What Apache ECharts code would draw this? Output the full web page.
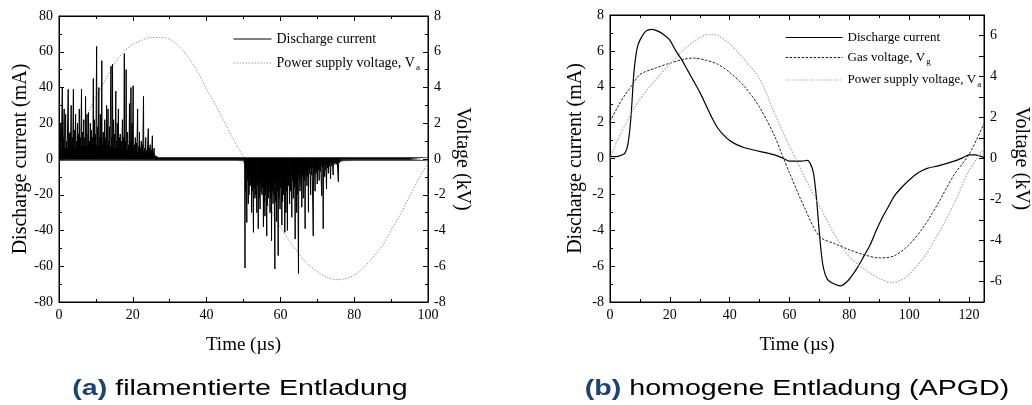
<!DOCTYPE html>
<html><head><meta charset="utf-8">
<script src="https://cdn.jsdelivr.net/npm/echarts@6/dist/echarts.min.js"></script>
<style>html,body{margin:0;background:#fff}#c{width:1032px;height:405px}</style>
</head><body><div id="c"></div>
<script>
// ---------- (a) filamentary discharge ----------
const posSpikeT = [0.5,0.9,1.4,1.8,2.5,3.0,3.3,3.9,4.5,5.0,5.5,6.1,6.7,7.2,7.6,8.0,8.5,9.3,9.6,10.2,10.5,10.8,11.2,11.6,12.0,12.4,12.9,13.3,13.7,14.1,14.5,14.8,15.4,15.8,16.1,16.6,17.2,17.7,18.2,18.6,19.1,19.5,19.8,20.1,20.7,21.3,21.8,22.3,22.9,23.5,24.2,24.7,25.3,25.8,
  0.2,1.1,2.1,2.8,3.6,4.2,4.8,5.3,5.8,6.4,7.0,7.9,8.3,8.8,9.1,9.9,11.0,11.4,12.2,12.7,13.5,14.3,15.1,15.6,16.4,16.9,17.5,18.0,18.9,19.3,20.4,21.0,21.6,22.0,22.6,23.2,23.8,24.5,25.0];
const posSpikeV = [20,40,28,25,39,15,30,39,25,20,28,39,22,35,25,26,20,45,22,63,18,40,25,55,15,22,30,28,18,52,53,22,38,20,28,14,22,59,50,15,31,40,20,41,12,28,15,10,35,12,17,8,13,6,
  8,12,10,14,12,16,10,14,12,15,12,14,10,16,12,14,12,10,14,12,10,12,14,10,12,10,12,10,8,10,8,9,7,6,8,6,5,6,5];
const negSpikeT = [50.4,50.9,51.3,51.8,52.2,52.7,53.1,53.6,54.0,54.5,55.0,55.4,55.8,56.3,56.7,57.2,57.6,58.0,58.5,59.0,59.4,59.9,60.4,60.8,61.2,61.5,61.9,62.5,63.1,63.5,64.0,64.4,64.9,65.3,65.8,66.2,66.7,67.2,67.6,68.2,68.9,69.4,70.0,70.5,71.2,71.6,72.0,72.5,73.0,73.6,74.3,75.7,
  50.6,51.1,51.5,52.0,52.4,52.9,53.3,53.8,54.2,54.8,55.2,55.6,56.0,56.5,56.9,57.4,57.8,58.2,58.7,59.2,59.6,60.1,60.6,61.0,61.7,62.2,62.8,63.3,63.8,64.2,64.6,65.1,65.6,66.0,66.5,66.9,67.4,67.9,68.5,69.1,69.7,70.3,70.8,71.4,72.2,72.8,73.3,74.0,74.8,75.3,76.0];
const negSpikeV = [-61,-35.5,-25,-15,-30,-41,-22,-30,-39,-28,-20,-38,-32,-43,-22,-30,-45.7,-25,-61.5,-35,-54,-28,-37,-20,-41,-30,-40,-25,-32.6,-22,-44.8,-30,-64,-18,-27,-22,-39,-15,-29.8,-20,-43,-18,-14,-12,-20.5,-39,-10,-16.8,-8,-11,-9,-12.7,
  -18,-12,-20,-14,-18,-16,-20,-15,-22,-18,-16,-24,-20,-26,-18,-22,-18,-20,-24,-18,-22,-16,-24,-14,-18,-15,-18,-12,-16,-14,-20,-12,-15,-10,-12,-9,-10,-8,-9,-7,-8,-6,-7,-5,-6,-5,-4,-4,-3,-3,-2];
// dense noise band (envelope)
const bandT  = [0,1,2,3,4,5,6,7,8,9,10,11,12,13,14,15,16,17,18,19,20,21,22,23,24,25,26,27,30,35,40,45,48,50,51,52,53,54,55,56,57,58,59,60,61,62,63,64,65,66,67,68,69,70,71,72,73,74,75,76,77,80,85,90,95,100];
const bandHi = [4,6,6,7,6,7,7,8,7,8,8,7,7,8,7,6,6,6,6,5,5,4,4,4,3,3,2,0.8,0.8,0.8,0.8,0.8,0.8,0.8,0.8,0.8,0.8,0.8,0.8,0.8,0.8,0.8,0.8,0.8,0.8,0.8,0.8,0.8,0.8,0.8,0.8,0.8,0.8,0.8,0.8,0.8,0.8,0.8,0.8,0.8,0.8,0.8,0.8,0.8,0.8,0.8];
const bandLo = [-0.8,-0.8,-0.8,-0.8,-0.8,-0.8,-0.8,-0.8,-0.8,-0.8,-0.8,-0.8,-0.8,-0.8,-0.8,-0.8,-0.8,-0.8,-0.8,-0.8,-0.8,-0.8,-0.8,-0.8,-0.8,-0.8,-0.8,-0.8,-0.8,-0.8,-0.8,-0.8,-0.8,-1,-8,-10,-12,-13,-14,-14,-14,-13,-13,-12,-11,-10,-9,-9,-8,-7,-6,-5,-5,-4,-4,-3,-3,-2,-2,-1.5,-1,-0.8,-0.8,-0.8,-0.8,-0.8];
// power supply voltage (kV)
const vaT_a = [0,2.5,5,7.5,10,12.5,15,17.5,20,22.5,25,27.5,30,32.5,35,37.5,40,42.5,45,47.5,50,52.5,55,57.5,60,62.5,65,67.5,70,72.5,75,77.5,80,82.5,85,87.5,90,92.5,95,97.5,100];
const vaV_a = [-0.2,0.5,1.3,2.4,3.5,4.4,5.3,6.0,6.4,6.65,6.8,6.8,6.7,6.3,5.7,4.9,3.9,3.0,2.0,1.0,0.1,-0.9,-1.9,-2.9,-3.8,-4.6,-5.3,-5.9,-6.3,-6.6,-6.75,-6.7,-6.5,-6.1,-5.5,-4.9,-4.0,-3.1,-2.1,-1.1,-0.2];

// ---------- (b) homogeneous discharge ----------
const curT = [0,2,4,5,6,7,8,9,10,12,14,16,18,20,22,24,26,28,30,32,34,36,38,40,42,45,50,55,58,60,64,66,67,68,69,70,71,72,73,75,77,79,81,83,85,87,89,91,93,95,97,100,103,106,110,115,118,120,122,125];
const curI = [0.1,0.1,0.2,0.3,0.8,2.3,4.8,6.1,6.6,7.1,7.2,7.1,6.9,6.6,6.0,5.5,4.9,4.3,3.7,3.0,2.3,1.7,1.3,1.0,0.8,0.6,0.4,0.2,0.0,-0.15,-0.15,-0.1,-0.3,-0.8,-2.2,-4.2,-5.8,-6.5,-6.8,-7.0,-7.1,-6.9,-6.5,-6.0,-5.4,-4.8,-4.0,-3.3,-2.7,-2.1,-1.7,-1.2,-0.8,-0.55,-0.4,-0.15,0.05,0.2,0.2,0.05];
const vgT = [0,2.5,5,7.5,10,15,20,25,28,32,36,40,45,50,55,58,60,65,70,75,80,85,90,95,100,105,110,115,120,125];
const vgV = [1.8,2.5,3.1,3.6,4.1,4.4,4.65,4.85,4.9,4.8,4.6,4.2,3.5,2.5,1.1,0,-0.7,-2.4,-3.8,-4.15,-4.45,-4.7,-4.85,-4.75,-4.2,-3.3,-2.1,-0.8,0.2,1.7];
const vaT_b = [0,2.5,5,7.5,10,15,20,25,30,33,36,40,45,50,55,60,62,65,70,75,80,85,90,94,97,100,105,110,115,120,125];
const vaV_b = [0,0.9,1.6,2.3,2.9,3.8,4.6,5.35,5.9,6.05,6.0,5.6,4.8,3.9,2.2,0.6,0,-0.9,-2.3,-3.7,-4.8,-5.4,-5.85,-6.05,-5.95,-5.65,-4.8,-3.6,-2.2,-0.6,0.5];

// ---------- labels ----------
const nameCurrent = 'Discharge current';
const nameVa = 'Power supply voltage, Va';
const nameVg = 'Gas voltage, Vg';
const yNameLeft = 'Discharge current (mA)';
const yNameRight = 'Voltage (kV)';
const xName = 'Time (\u00b5s)';
const captionA = ['(a)', ' filamentierte Entladung'];
const captionB = ['(b)', ' homogene Entladung (APGD)'];

const zip = (a, b) => a.map((v, i) => [v, b[i]]);
function spikes(ts, vs, w) {
  const idx = ts.map((t, i) => i).sort((a, b) => ts[a] - ts[b]);
  const out = [];
  idx.forEach(i => { out.push([ts[i] - w, 0], [ts[i], vs[i]], [ts[i] + w, 0]); });
  return out;
}
const spikeData = spikes(posSpikeT.concat(negSpikeT), posSpikeV.concat(negSpikeV), 0.08);

const SERIF = 'Liberation Serif';
const lbl = { fontFamily: SERIF, fontSize: 14, color: '#000' };
const nameStyle = { fontFamily: SERIF, fontSize: 19, color: '#000' };
const yNameStyle = { fontFamily: SERIF, fontSize: 20, color: '#000' };
const line = { show: true, onZero: false, lineStyle: { color: '#000', width: 1 } };
const tick = { show: true, inside: true, length: 5, lineStyle: { color: '#000' } };
const minor = (n) => ({ show: true, splitNumber: n, length: 3, lineStyle: { color: '#000' } });

function xAx(grid, max, top) {
  return {
    type: 'value', gridIndex: grid, min: 0, max: max, interval: 20, position: top ? 'top' : 'bottom',
    axisLine: line, axisTick: tick, minorTick: minor(2), splitLine: { show: false },
    axisLabel: top ? { show: false } : Object.assign({ margin: 6, showMaxLabel: max % 20 === 0 }, lbl),
    name: top ? '' : xName, nameLocation: 'middle', nameGap: 34, nameTextStyle: nameStyle
  };
}
function yAx(grid, min, max, interval, pos, name, gap, minorN, fmt) {
  return {
    type: 'value', gridIndex: grid, min: min, max: max, interval: interval, position: pos,
    axisLine: line, axisTick: tick, minorTick: minorN ? minor(minorN) : { show: false }, splitLine: { show: false },
    axisLabel: Object.assign({ margin: 6, formatter: fmt || (v => String(v)) }, lbl),
    name: name, nameLocation: 'middle', nameGap: gap, nameRotate: pos === 'left' ? 90 : -90,
    nameTextStyle: yNameStyle
  };
}
const sub = (s) => s.replace(/, V([ag])$/, ', V{sub|$1}');
const legendText = (fs) => ({ fontFamily: SERIF, fontSize: fs, color: '#000',
  rich: { sub: { fontFamily: SERIF, fontSize: 9, color: '#000', padding: [9, 0, 0, 1], verticalAlign: 'top' } } });
const noSym = { color: 'rgba(0,0,0,0)', borderWidth: 0, opacity: 0 };

const option = {
  animation: false,
  backgroundColor: '#fff',
  grid: [
    { left: 59, right: 604, top: 16, bottom: 103, show: true, borderColor: '#000', borderWidth: 1 },
    { left: 610, right: 44, top: 15, bottom: 103, show: true, borderColor: '#000', borderWidth: 1 }
  ],
  xAxis: [xAx(0, 100, false), xAx(0, 100, true), xAx(1, 125, false), xAx(1, 125, true)],
  yAxis: [
    yAx(0, -80, 80, 20, 'left', yNameLeft, 28, 2),
    yAx(0, -8, 8, 2, 'right', yNameRight, 24, 2),
    yAx(1, -8, 8, 2, 'left', yNameLeft, 24, 2),
    yAx(1, -7, 7, 1, 'right', yNameRight, 27, 0, v => (v % 2 === 0 ? String(v) : ''))
  ],
  legend: [
    { orient: 'vertical', left: 228, top: 27, itemWidth: 38, itemHeight: 10, itemGap: 10,
      textStyle: legendText(14), formatter: sub, selectedMode: false, itemStyle: noSym,
      data: [
        { name: nameCurrent, itemStyle: noSym, lineStyle: { color: '#000', width: 1, type: 'solid' } },
        { name: nameVa, itemStyle: noSym, lineStyle: { color: '#9a9a9a', width: 1, type: [1.5, 1.5] } }
      ] },
    { orient: 'vertical', left: 780, top: 26, itemWidth: 57, itemHeight: 10, itemGap: 7,
      textStyle: legendText(13), formatter: sub, selectedMode: false, itemStyle: noSym,
      data: [
        { name: nameCurrent, itemStyle: noSym, lineStyle: { color: '#000', width: 1.2, type: 'solid' } },
        { name: nameVg, itemStyle: noSym, lineStyle: { color: '#222', width: 1, type: [2.5, 1.5] } },
        { name: nameVa, itemStyle: noSym, lineStyle: { color: '#a8a8a8', width: 1.2, type: [1.5, 1.5] } }
      ] }
  ],
  series: [
    { name: 'band+', type: 'line', xAxisIndex: 0, yAxisIndex: 0, data: zip(bandT, bandHi), symbol: 'none',
      lineStyle: { color: '#000', width: 0.5 }, areaStyle: { color: '#000', opacity: 1 }, z: 2 },
    { name: 'band-', type: 'line', xAxisIndex: 0, yAxisIndex: 0, data: zip(bandT, bandLo), symbol: 'none',
      lineStyle: { color: '#111', width: 0.5 }, areaStyle: { color: '#1a1a1a', opacity: 0.95 }, z: 2 },
    { name: nameCurrent, type: 'line', xAxisIndex: 0, yAxisIndex: 0, data: spikeData, symbol: 'none',
      lineStyle: { color: '#000', width: 1 }, z: 3 },
    { name: nameVa, type: 'line', xAxisIndex: 0, yAxisIndex: 1, data: zip(vaT_a, vaV_a), symbol: 'none', smooth: 0.3,
      lineStyle: { color: '#9a9a9a', width: 1, type: [1.5, 1.5] }, z: 1 },

    { name: nameCurrent, type: 'line', xAxisIndex: 2, yAxisIndex: 2, data: zip(curT, curI), symbol: 'none', smooth: 0.3,
      lineStyle: { color: '#000', width: 1.2 } },
    { name: nameVg, type: 'line', xAxisIndex: 2, yAxisIndex: 3, data: zip(vgT, vgV), symbol: 'none', smooth: 0.3,
      lineStyle: { color: '#222', width: 1, type: [2.5, 1.5] } },
    { name: nameVa, type: 'line', xAxisIndex: 2, yAxisIndex: 3, data: zip(vaT_b, vaV_b), symbol: 'none', smooth: 0.3,
      lineStyle: { color: '#a8a8a8', width: 1.2, type: [1.5, 1.5] } }
  ],
  graphic: [
    { type: 'text', x: 240, y: 389, scaleX: 1.3, style: {
        text: '{b|' + captionA[0] + '}{n|' + captionA[1] + '}', align: 'center', verticalAlign: 'middle',
        rich: { b: { fontFamily: 'Liberation Sans', fontSize: 22, fontWeight: 'bold', fill: '#1d4275' },
                n: { fontFamily: 'Liberation Sans', fontSize: 22, fill: '#000' } } } },
    { type: 'text', x: 797, y: 389, scaleX: 1.3, style: {
        text: '{b|' + captionB[0] + '}{n|' + captionB[1] + '}', align: 'center', verticalAlign: 'middle',
        rich: { b: { fontFamily: 'Liberation Sans', fontSize: 22, fontWeight: 'bold', fill: '#1d4275' },
                n: { fontFamily: 'Liberation Sans', fontSize: 22, fill: '#000' } } } }
  ]
};
const chart = echarts.init(document.getElementById('c'), null, { renderer: 'canvas' });
chart.setOption(option);
</script></body></html>
